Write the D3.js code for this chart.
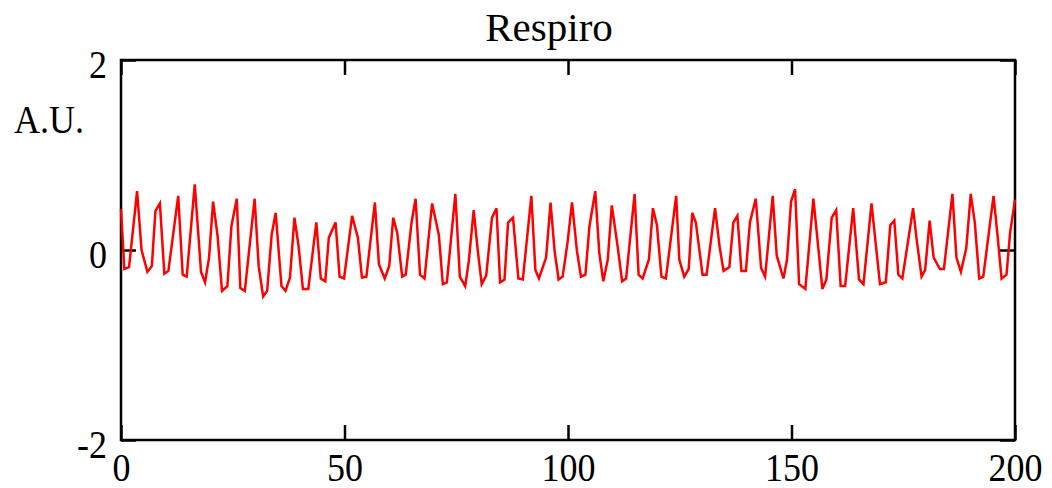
<!DOCTYPE html>
<html>
<head>
  <title>Respiro</title>
  <script src="https://d3js.org/d3.v7.min.js"></script>
  <style>
    body { margin: 0; background: #fff; }
    text { font-family: "Liberation Serif", "DejaVu Serif", serif; fill: #000; }
  </style>
</head>
<body>
<div id="chart"></div>
<script>
  // sample times and amplitude (A.U.)
  const sampleTime = [0, 0.75, 1.8, 3.6, 4.6, 5.9, 6.9, 7.7, 8.7, 9.7, 10.6, 12.8, 13.8, 14.7, 16.5, 17.9, 18.8, 19.7,
    20.6, 21.6, 22.6, 23.8, 24.7, 25.9, 26.7, 27.7, 29.9, 30.8, 31.8, 32.7, 33.7, 34.6, 35.9, 36.8, 37.8, 38.8, 39.7,
    40.7, 41.9, 43.7, 44.7, 45.7, 46.5, 48.0, 48.9, 49.9, 51.7, 53.0, 53.9, 54.9, 56.8, 57.7, 59.0, 60.0, 60.9, 61.8,
    62.9, 63.7, 65.0, 65.9, 66.9, 67.9, 69.6, 71.1, 72.0, 72.9, 74.8, 75.8, 77.0, 77.8, 78.9, 79.8, 80.7, 81.7, 83.0,
    84.0, 84.8, 85.8, 86.6, 87.7, 88.9, 89.9, 91.8, 92.7, 93.5, 95.1, 96.1, 97.0, 97.9, 98.8, 99.9, 100.9, 102.0,
    102.9, 103.9, 104.8, 106.1, 107.0, 107.9, 108.9, 109.8, 111.1, 112.1, 113.0, 114.9, 115.8, 116.7, 118.1, 119.0,
    119.9, 120.9, 121.9, 124.2, 124.9, 126.0, 127.0, 127.8, 128.6, 130.1, 131.0, 132.9, 133.9, 134.8, 136.1, 137.0,
    137.9, 138.8, 139.8, 140.7, 142.0, 143.2, 144.1, 145.8, 146.7, 148.2, 149.0, 149.9, 150.8, 151.7, 153.1, 154.9,
    156.0, 156.9, 157.8, 159.0, 160.0, 161.0, 162.0, 163.8, 165.1, 166.1, 167.9, 168.9, 169.8, 171.1, 172.1, 173.0,
    173.9, 174.8, 177.2, 178.0, 179.1, 179.9, 180.9, 181.8, 183.2, 184.1, 186.0, 186.9, 187.9, 189.1, 190.1, 191.0,
    192.0, 192.9, 195.2, 196.1, 197.0, 198.1, 198.9, 200];
  const respiro = [0.43, -0.20, -0.18, 0.62, 0.00, -0.23, -0.17, 0.41, 0.49, -0.25, -0.22, 0.57, -0.26, -0.28, 0.69,
    -0.23, -0.34, -0.08, 0.51, 0.15, -0.43, -0.38, 0.25, 0.54, -0.40, -0.43, 0.54, -0.17, -0.49, -0.43, 0.16, 0.39,
    -0.38, -0.43, -0.29, 0.34, 0.05, -0.41, -0.41, 0.29, -0.30, -0.33, 0.13, 0.29, -0.28, -0.30, 0.36, 0.13, -0.29,
    -0.28, 0.50, -0.15, -0.30, -0.17, 0.34, 0.18, -0.28, -0.26, 0.29, 0.54, -0.26, -0.30, 0.49, 0.16, -0.36, -0.34,
    0.59, -0.28, -0.38, -0.12, 0.42, 0.00, -0.36, -0.27, 0.34, 0.44, -0.34, -0.31, 0.29, 0.34, -0.30, -0.31, 0.57,
    -0.21, -0.30, -0.08, 0.50, -0.01, -0.31, -0.28, 0.08, 0.50, -0.01, -0.28, -0.26, 0.25, 0.62, -0.03, -0.33, -0.10,
    0.47, 0.04, -0.33, -0.30, 0.59, -0.26, -0.30, -0.10, 0.44, 0.26, -0.28, -0.30, 0.57, -0.10, -0.28, -0.20, 0.39,
    0.29, -0.26, -0.26, 0.44, 0.04, -0.22, -0.18, 0.29, 0.36, -0.22, -0.22, 0.29, 0.54, -0.19, -0.28, 0.57, -0.06,
    -0.30, -0.10, 0.51, 0.64, -0.36, -0.41, 0.54, 0.02, -0.41, -0.31, 0.34, 0.42, -0.38, -0.38, 0.44, -0.31, -0.36,
    0.49, 0.04, -0.36, -0.34, 0.26, 0.31, -0.26, -0.30, 0.44, 0.11, -0.28, -0.21, 0.31, -0.08, -0.20, -0.20, 0.59,
    -0.08, -0.23, 0.02, 0.59, 0.29, -0.30, -0.28, 0.57, 0.15, -0.30, -0.26, 0.18, 0.53];

  const xTicks = [0, 50, 100, 150, 200];
  const yTicks = [-2, 0, 2];
  const yTickLabels = ["-2", "0", "2"];

  const width = 1052;
  const height = 488;
  const margin = {top: 60, right: 37, bottom: 48, left: 121};
  const plotW = width - margin.left - margin.right;
  const plotH = height - margin.top - margin.bottom;

  // the lettering in the original is a little narrow and tall
  const font = "40px";
  const squeeze = 0.9;

  const svg = d3.select("#chart")
          .append("svg")
          .attr("width", width)
          .attr("height", height);

  const g = svg.append("g")
          .attr("transform", `translate(${margin.left},${margin.top})`);

  const x = d3.scaleLinear().domain([0, 200]).range([0, plotW]);
  const y = d3.scaleLinear().domain([-2, 2]).range([plotH, 0]);

  // bottom axis, ticks inward
  const axBottom = g.append("g")
          .attr("transform", `translate(0,${plotH})`)
          .call(d3.axisBottom(x).tickValues(xTicks).tickSize(-15).tickSizeOuter(0).tickPadding(13));
  // top axis, ticks only
  const axTop = g.append("g")
          .call(d3.axisTop(x).tickValues(xTicks).tickSize(-15).tickSizeOuter(0).tickFormat(""));
  // left axis
  const axLeft = g.append("g")
          .call(d3.axisLeft(y).tickValues(yTicks).tickSize(-15).tickSizeOuter(0).tickPadding(14)
                  .tickFormat((d, i) => yTickLabels[i]));
  // right axis, ticks only
  const axRight = g.append("g")
          .attr("transform", `translate(${plotW},0)`)
          .call(d3.axisRight(y).tickValues(yTicks).tickSize(-15).tickSizeOuter(0).tickFormat(""));

  [axBottom, axTop, axLeft, axRight].forEach(a => {
    a.select(".domain").remove();
    a.selectAll(".tick line").attr("stroke", "#000").attr("stroke-width", 2.5);
    a.attr("font-family", null).attr("font-size", null);
    a.selectAll("text").style("font-size", font);
  });

  axBottom.selectAll(".tick text")
          .attr("transform", `scale(${squeeze},1)`);
  axLeft.selectAll(".tick text")
          .attr("x", -14 / squeeze)
          .attr("dy", "0.43em")
          .attr("transform", `scale(${squeeze},1)`);

  // frame
  g.append("rect")
          .attr("x", 0)
          .attr("y", 0)
          .attr("width", plotW)
          .attr("height", plotH)
          .attr("fill", "none")
          .attr("stroke", "#000")
          .attr("stroke-width", 2.5);

  const line = d3.line()
          .x((d, i) => x(sampleTime[i]))
          .y(d => y(d));

  g.append("path")
          .datum(respiro)
          .attr("fill", "none")
          .attr("stroke", "#ff0000")
          .attr("stroke-width", 2.5)
          .attr("d", line);

  svg.append("text")
          .attr("transform", "translate(549,41)")
          .attr("text-anchor", "middle")
          .style("font-size", "41px")
          .text("Respiro");

  svg.append("text")
          .attr("transform", `translate(14,133) scale(${squeeze},1)`)
          .style("font-size", font)
          .text("A.U.");
</script>
</body>
</html>
